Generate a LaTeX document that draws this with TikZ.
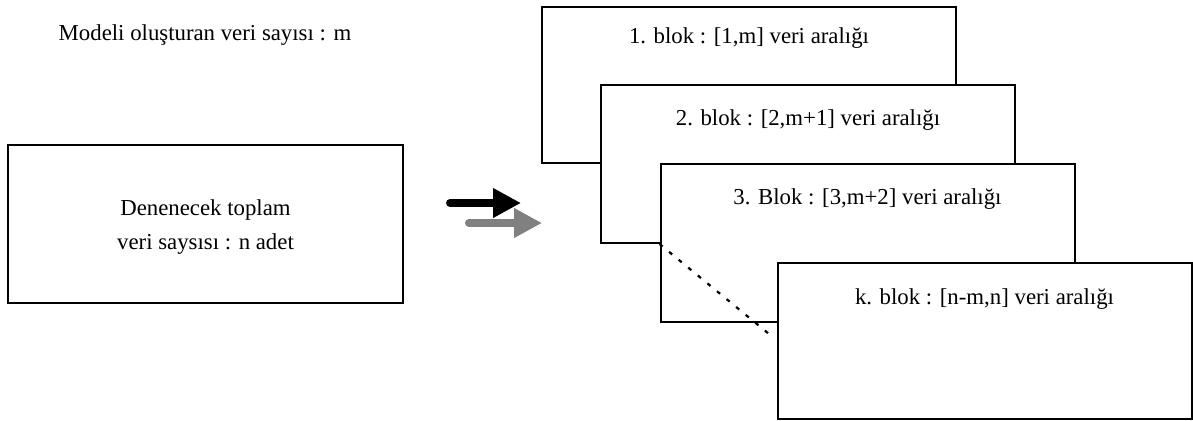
\documentclass[tikz,border=0pt]{standalone}
\usepackage{fontspec}
\setmainfont{Liberation Serif}
\usetikzlibrary{arrows.meta, positioning}

\begin{document}
\begin{tikzpicture}[x=0.5pt, y=-0.5pt]

\tikzset{blok/.style = {draw, fill=white, line width=1pt, minimum width=207pt, minimum height=78pt, inner sep=0pt}}
\tikzset{yazi/.style = {inner sep=0pt, font=\fontsize{11.4}{17}\selectfont, align=center}}
\tikzset{ok/.style = {line width=4pt, line cap=round, -{Triangle[length=14pt,width=14pt]}}}
\definecolor{okgri}{RGB}{128,128,128}
\useasboundingbox (0,0) rectangle (1193,420);
%kutular
\node[yazi] (model) at (205,35) {Modeli oluşturan veri sayısı : m};
\node[blok, minimum width=197.5pt, minimum height=79pt] (veri) at (205.5,224) {};
\node[yazi] (veritxt) at ([yshift=-1.5pt]veri.center) {Denenecek toplam\\veri saysısı : n adet};
\node[blok] (b1) at (749,84.5) {};
\node[yazi] (t1) at ([yshift=-16.5pt]b1.north) {1. blok : [1,m] veri aralığı};
\node[blok, minimum height=79pt] (b2) at (808,164) {};
\node[yazi] (t2) at ([yshift=-18pt]b2.north) {2. blok : [2,m+1] veri aralığı};
\node[blok, minimum height=79pt] (b3) at (867.5,243) {};
\node[yazi] (t3) at ([yshift=-18pt]b3.north) {3. Blok : [3,m+2] veri aralığı};
\node[blok] (bk) at (984.5,341) {};
\node[yazi] (tk) at ([yshift=-18.5pt]bk.north) {k. blok : [n-m,n] veri aralığı};
%oklar
\coordinate (s1) at (450,203);
\coordinate (e1) at (521,203);
\coordinate (s2) at (469,223);
\coordinate (e2) at (542,223);
\draw[ok] (s1) -- (e1);
\draw[ok, okgri] (s2) -- (e2);
%noktali cizgi
\draw[line width=1.1pt, dash pattern=on 2pt off 4.2pt] (b3.west |- b2.south) -- ([xshift=-2.5pt, yshift=2.5pt]bk.west);

\end{tikzpicture}
\end{document}
